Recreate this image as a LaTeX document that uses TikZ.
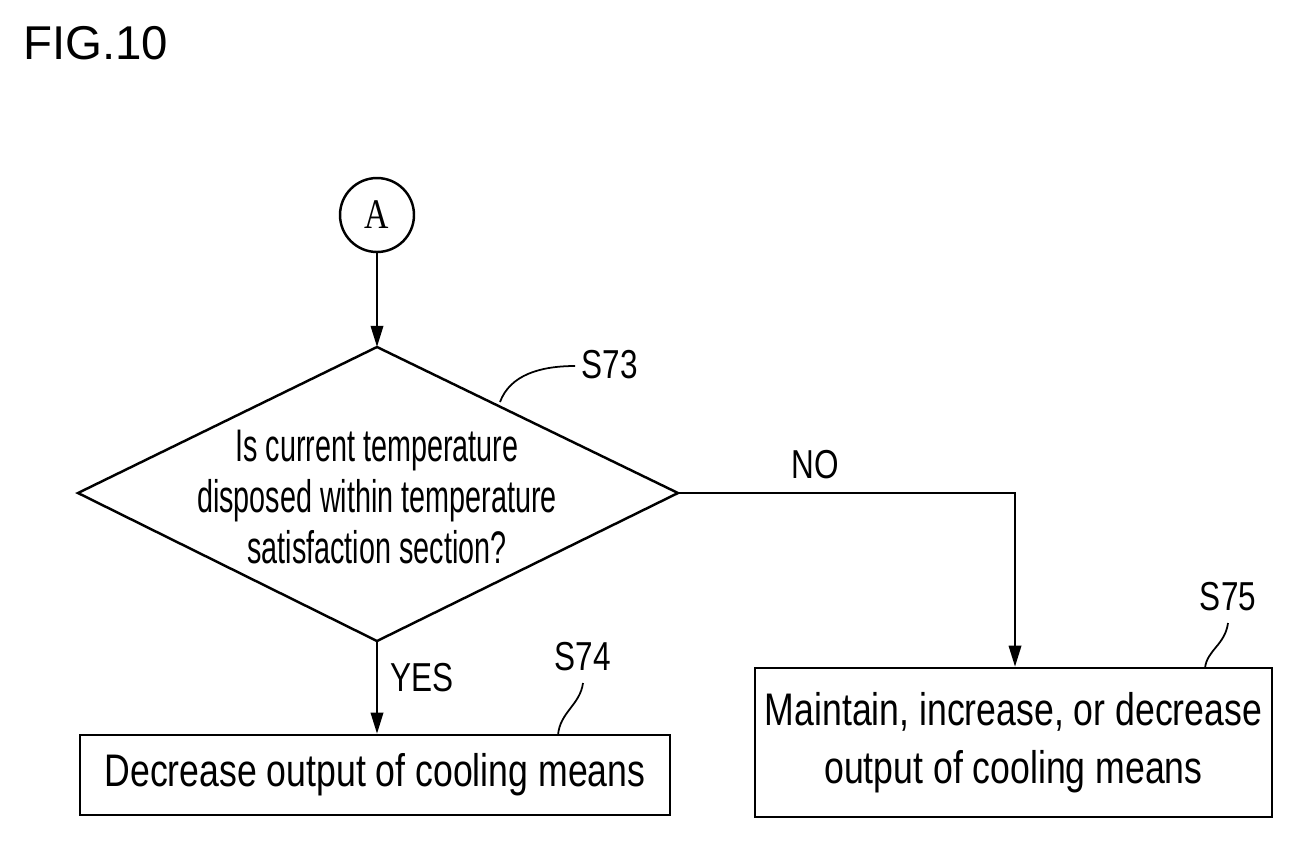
\documentclass[tikz,border=0pt]{standalone}
\usepackage{fontspec}
\setmainfont{Liberation Sans}
\newfontfamily\narrowfont[FakeStretch=0.78]{Liberation Sans}
\newfontfamily\slimfont[FakeStretch=0.63]{Liberation Sans}
\newfontfamily\serifnarrow[FakeStretch=0.8]{Liberation Serif}
\usetikzlibrary{arrows.meta,shapes.geometric}

\begin{document}
\begin{tikzpicture}[x=0.02cm,y=-0.02cm,
    line width=1.4pt,
    flowbox/.style={draw, rectangle, inner sep=0pt, font=\narrowfont\fontsize{26}{33}\selectfont, align=center},
    steplabel/.style={font=\narrowfont\fontsize{23}{26}\selectfont},
    flowarrow/.style={-{Triangle[length=12pt,width=7pt]}},
]
\useasboundingbox (0,0) rectangle (1297,840);

\node[font=\fontsize{27}{30}\selectfont, anchor=west] (fig) at (16,43) {FIG.10};

% connector and decision
\node[draw, circle, minimum size=1.48cm, inner sep=0pt, font=\serifnarrow\fontsize{24}{26}\selectfont] (conA) at (377,215) {A};
\coordinate (dtop) at (377,347);
\coordinate (dleft) at (78,493);
\coordinate (dright) at (678,493);
\coordinate (dbot) at (377,641);
\draw (dtop) -- (dright) -- (dbot) -- (dleft) -- cycle;
\node[align=center, font=\slimfont\fontsize{26}{29}\selectfont] (question) at (377,497)
    {Is current temperature\\disposed within temperature\\satisfaction section?};

% process boxes
\node[flowbox, minimum width=11.8cm, minimum height=1.6cm] (decrease) at (375,775)
    {Decrease output of cooling means};
\node[flowbox, minimum width=10.34cm, minimum height=2.98cm] (maintain) at (1013.5,742.5)
    {Maintain, increase, or decrease\\output of cooling means};

% arrows
\draw[flowarrow] (conA) -- (dtop);
\draw[flowarrow] (dbot) -- (decrease.north -| dbot);
\coordinate (corner) at (1015,493);
\draw[flowarrow] (dright) -- (corner) -- (maintain.north -| corner);
\node[steplabel] (yes) at (422,678) {YES};
\node[steplabel] (no) at (815,465) {NO};

% step labels
\node[steplabel] (s73) at (610,365) {S73};
\draw[line width=1pt] (500,402) .. controls (510,375) and (540,366) .. (575,366);
\node[steplabel] (s74) at (583,657) {S74};
\draw[line width=1pt] (583,683) .. controls (580,705) and (560,712) .. (558,735);
\node[steplabel] (s75) at (1228,597) {S75};
\draw[line width=1pt] (1228,623) .. controls (1225,645) and (1207,650) .. (1205,668);
\end{tikzpicture}
\end{document}
